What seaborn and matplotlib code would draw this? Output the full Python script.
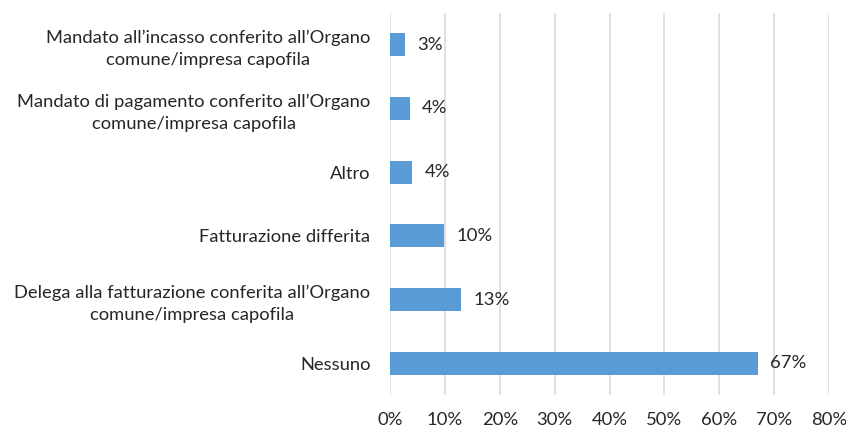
import matplotlib.pyplot as plt
import pandas as pd
import seaborn as sns

categories = [
    "Mandato all\u2019incasso conferito all\u2019Organo\ncomune/impresa capofila",
    "Mandato di pagamento conferito all\u2019Organo\ncomune/impresa capofila",
    "Altro",
    "Fatturazione differita",
    "Delega alla fatturazione conferita all\u2019Organo\ncomune/impresa capofila",
    "Nessuno",
]
shares = [2.7, 3.6, 4.0, 9.9, 13.0, 67.0]
labels = ["3%", "4%", "4%", "10%", "13%", "67%"]
xticks = [0, 10, 20, 30, 40, 50, 60, 70, 80]

df = pd.DataFrame({"categoria": categories, "quota": shares})

sns.set_theme(style="white")
plt.rcParams["font.family"] = ["Lato", "DejaVu Sans"]

fig = plt.figure(figsize=(8.46, 4.30), dpi=100)
ax = fig.add_axes([0.461, 0.081, 0.519, 0.889])

sns.barplot(data=df, y="categoria", x="quota", orient="h",
            color="#5B9BD5", width=0.36, saturation=1, linewidth=0,
            ax=ax, zorder=3)

ax.bar_label(ax.containers[0], labels=labels, padding=9,
             fontsize=13.3, color="#262626")

ax.set_xlim(0, 80)
ax.set_xticks(xticks)
ax.set_xticklabels([f"{t}%" for t in xticks])
ax.grid(axis="x", color="#d9d9d9", linewidth=1.1, zorder=0)
ax.set_axisbelow(True)
for s in ax.spines.values():
    s.set_visible(False)
ax.tick_params(axis="x", length=0, pad=12, labelsize=13.3, labelcolor="#262626")
ax.tick_params(axis="y", length=0, pad=14, labelsize=13.2, labelcolor="#262626")
for t in ax.get_yticklabels():
    t.set_multialignment("center")
    t.set_linespacing(1.45)
ax.set_xlabel("")
ax.set_ylabel("")

fig.savefig("out.png", dpi=100)
